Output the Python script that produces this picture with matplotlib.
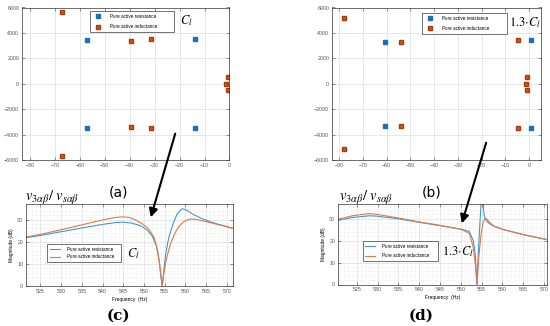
"""Pole maps and |v3/vs| magnitude curves for C_l and 1.3*C_l."""

import matplotlib.pyplot as plt
from matplotlib.patches import FancyArrowPatch
from matplotlib.ticker import MultipleLocator

plt.rcParams["mathtext.fontset"] = "stix"
plt.rcParams["font.family"] = ["Liberation Sans", "DejaVu Sans"]

W, H = 550, 326
BLUE = "#1f6fb5"
ORANGE = "#d95319"
BLUE_LINE = "#3d9ad1"
ORANGE_LINE = "#e0784a"
LABELS = ["Pure active resistance", "Pure active inductance"]

# (a) poles, C_l
a_res_re = [-57, -57, -14, -14]
a_res_im = [3450, -3450, 3500, -3500]
a_ind_re = [-67, -67, -39.5, -39.5, -31.5, -31.5, -0.8, -1.5, -0.8]
a_ind_im = [5650, -5650, 3400, -3400, 3500, -3500, 500, 0, -500]

# (b) poles, 1.3*C_l
b_res_re = [-60.5, -60.5, 0.8, 0.8]
b_res_im = [3300, -3300, 3450, -3450]
b_ind_re = [-78, -78, -54, -54, -4.5, -4.5, -0.8, -1.5, -1.0]
b_ind_im = [5150, -5150, 3300, -3300, 3450, -3450, 500, 0, -500]

# (c) magnitude, C_l
c_res_f = [521.5, 525, 530, 535, 540, 543, 545, 547, 549, 550, 551, 552, 553,
           553.7, 554.1, 554.4, 554.7, 555.2, 556, 557, 558, 559, 559.5,
           560.5, 562, 564, 566, 568, 570, 571.5]
c_res_db = [21.8, 22.8, 24.5, 26.2, 27.8, 28.6, 28.8, 28.4, 27.3, 26.3, 24.8,
            22.5, 18, 11, 4, 0, 5, 14, 22, 28, 32.5, 34.6, 34.8, 34, 32.2,
            30.4, 29, 27.8, 26.8, 26]
c_ind_f = [521.5, 525, 530, 535, 540, 543, 545, 546.5, 548, 549.5, 550.5,
           551.5, 552.5, 553.3, 553.9, 554.4, 554.8, 555.5, 556.5, 557.5,
           558.5, 559.5, 560.5, 561.5, 562.5, 564, 566, 568, 570, 571.5]
c_ind_db = [22.1, 23.3, 25.4, 27.6, 29.8, 30.9, 31.2, 30.9, 29.8, 28.2, 26.8,
            24.8, 21.5, 16, 8, 0, 6, 13, 19.5, 24, 27, 28.9, 29.9, 30.2, 30.1,
            29.5, 28.6, 27.7, 26.7, 26]

# (d) magnitude, 1.3*C_l
d_res_f = [520.5, 524, 528, 530, 535, 540, 545, 550, 552, 553, 553.5, 553.85,
           554.2, 554.5, 554.8, 555.0, 555.3, 555.5, 555.8, 556.3, 557, 558,
           560, 565, 570.7]
d_res_db = [29.3, 30.6, 31.4, 31.2, 30.0, 28.4, 26.9, 25.3, 24.3, 20, 13, 0,
            14, 25, 35, 40, 40, 33, 30, 28.8, 27.6, 26.6, 25.2, 22.8, 20.5]
d_ind_f = [520.5, 524, 528, 530, 535, 540, 545, 550, 552, 553, 553.5, 553.9,
           554.3, 554.8, 555.3, 555.8, 556.3, 557, 558, 560, 565, 570.7]
d_ind_db = [29.8, 31.4, 32.4, 32.0, 30.4, 28.6, 27.0, 25.2, 23.5, 17, 9, 0,
            12, 22, 28, 30.3, 29.8, 28.2, 26.7, 25.2, 22.8, 20.5]


def add_axes(fig, left, top, right, bottom):
    return fig.add_axes([left / W, 1 - bottom / H,
                         (right - left) / W, (bottom - top) / H])


def matlab_style(ax):
    ax.tick_params(direction="in", length=2, width=0.4, labelsize=3.8,
                   labelcolor="#555555", color="#444444", top=True,
                   right=True, pad=2)
    ax.tick_params(which="minor", length=0)
    for sp in ax.spines.values():
        sp.set_linewidth(0.5)
        sp.set_color("#333333")
    ax.set_axisbelow(True)
    ax.grid(True, color="#dddddd", lw=0.5)


def legend_box(ax, handles, x0, top, w, spacing):
    # top-left corner at (x0, top) in axes fraction, width w
    leg = ax.legend(handles, LABELS, loc="upper left",
                    bbox_to_anchor=(x0, top - 0.05, w, 0.05), mode="expand",
                    fontsize=3.3, frameon=True, fancybox=False,
                    borderpad=0.6, labelspacing=spacing, handletextpad=1.5,
                    handlelength=2.2, borderaxespad=0)
    leg.get_frame().set_edgecolor("#333333")
    leg.get_frame().set_linewidth(0.6)
    return leg


def pole_plot(ax, res_re, res_im, ind_re, ind_im, xlim):
    h1, = ax.plot(res_re, res_im, "s", ms=3, color=BLUE, mec=BLUE, ls="none")
    h2, = ax.plot(ind_re, ind_im, "s", ms=3, color=ORANGE, mec="#a33d10",
                  ls="none")
    ax.set_xlim(*xlim)
    ax.set_ylim(-6000, 6000)
    ax.set_xticks(range(-80, 1, 10))
    ax.set_yticks(range(-6000, 6001, 2000))
    matlab_style(ax)
    return [h1, h2]


def mag_plot(ax, xlim):
    ax.set_xlim(*xlim)
    ax.set_ylim(0, 37)
    ax.set_xticks(range(525, 571, 5))
    ax.set_yticks([0, 10, 20, 30])
    ax.xaxis.set_minor_locator(MultipleLocator(1))
    ax.yaxis.set_minor_locator(MultipleLocator(2))
    matlab_style(ax)
    ax.grid(True, which="minor", color="#e2e2e2", lw=0.4, ls=":")
    ax.set_xlabel("Frequency  (Hz)", fontsize=3.5, labelpad=2)
    ax.set_ylabel("Magnitude (dB)", fontsize=3.5, labelpad=2)


fig = plt.figure(figsize=(W / 100, H / 100), dpi=100)

ax_a = add_axes(fig, 22, 7.5, 229.5, 160)
hs = pole_plot(ax_a, a_res_re, a_res_im, a_ind_re, a_ind_im, (-83.2, 0))
legend_box(ax_a, hs, 0.328, 0.977, 0.405, 1.2)
ax_a.text(0.76, 0.915, "$C_l$", transform=ax_a.transAxes, fontsize=9,
          ha="left", va="center")

ax_b = add_axes(fig, 332, 7.5, 541, 160)
hs = pole_plot(ax_b, b_res_re, b_res_im, b_ind_re, b_ind_im, (-83, 5))
legend_box(ax_b, hs, 0.432, 0.965, 0.407, 1.2)
ax_b.text(0.845, 0.9, r"$1.3{\cdot}C_l$", transform=ax_b.transAxes,
          fontsize=9, ha="left", va="center")

ax_c = add_axes(fig, 26, 204, 233, 286)
mag_plot(ax_c, (521.5, 571.5))
h1, = ax_c.plot(c_res_f, c_res_db, color=BLUE_LINE, lw=0.8)
h2, = ax_c.plot(c_ind_f, c_ind_db, color=ORANGE_LINE, lw=0.8)
legend_box(ax_c, [h1, h2], 0.103, 0.51, 0.355, 0.5)
ax_c.text(0.49, 0.39, "$C_l$", transform=ax_c.transAxes, fontsize=9,
          ha="left", va="center")

ax_d = add_axes(fig, 338, 203.5, 547, 284.5)
mag_plot(ax_d, (520.5, 570.7))
h1, = ax_d.plot(d_res_f, d_res_db, color=BLUE_LINE, lw=0.8)
h2, = ax_d.plot(d_ind_f, d_ind_db, color=ORANGE_LINE, lw=0.8)
legend_box(ax_d, [h1, h2], 0.118, 0.535, 0.36, 1.0)
ax_d.text(0.5, 0.41, r"$1.3{\cdot}C_l$", transform=ax_d.transAxes,
          fontsize=9, ha="left", va="center")

# panel titles and letters
title = r"$v_{3\alpha\beta}/\ v_{s\alpha\beta}$"
fig.text(25 / W, 1 - 198 / H, title, fontsize=10.5, va="center")
fig.text(339 / W, 1 - 198 / H, title, fontsize=10.5, va="center")
fig.text(118 / W, 1 - 193 / H, "(a)", fontsize=10, ha="center", va="center",
         family="DejaVu Sans")
fig.text(432 / W, 1 - 193 / H, "(b)", fontsize=10, ha="center", va="center",
         family="DejaVu Sans")
fig.text(118 / W, 1 - 316 / H, "(c)", fontsize=11, ha="center", va="center",
         family="DejaVu Serif", weight="bold")
fig.text(421 / W, 1 - 316 / H, "(d)", fontsize=11, ha="center", va="center",
         family="DejaVu Serif", weight="bold")

# arrows from the pole maps to the magnitude plots
for (x0, y0), (x1, y1) in [((176, 131), (150, 220)),
                           ((487, 140), (461, 226))]:
    fig.add_artist(FancyArrowPatch((x0 / W, 1 - y0 / H), (x1 / W, 1 - y1 / H),
                                   transform=fig.transFigure,
                                   arrowstyle="-|>,head_length=0.5,head_width=0.25",
                                   mutation_scale=10, lw=1.5, color="black"))

fig.savefig("out.png", dpi=100)
